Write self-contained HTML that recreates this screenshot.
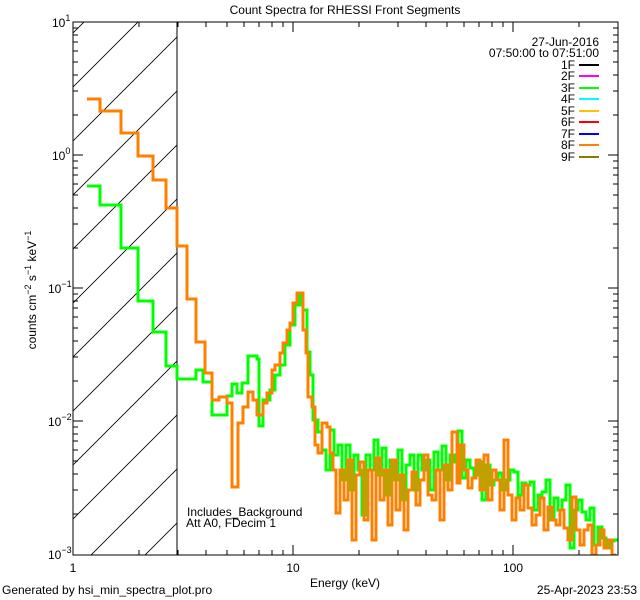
<!DOCTYPE html>
<html><head><meta charset="utf-8"><style>
html,body{margin:0;padding:0;background:#fff;width:640px;height:600px;overflow:hidden;}
svg{display:block;}
svg text{font-family:"Liberation Sans",sans-serif;font-size:12px;fill:#000;}
</style></head><body>
<svg width="640" height="600" viewBox="0 0 640 600" xmlns="http://www.w3.org/2000/svg">
<rect width="640" height="600" fill="#fff"/>
<defs><clipPath id="c"><rect x="73" y="22" width="545" height="533"/></clipPath>
<pattern id="hp" patternUnits="userSpaceOnUse" width="54" height="54" patternTransform="translate(-2,0)">
<path d="M0,54L54,0M-2,2L2,-2M52,56L56,52" stroke="#000" stroke-width="0.8"/>
</pattern></defs>
<rect x="73" y="22" width="104" height="533" fill="url(#hp)"/>
<line x1="177" y1="22" x2="177" y2="555" stroke="#000"/>
<g clip-path="url(#c)" fill="none" stroke-width="3">
<polyline stroke="#00ff00" points="87,186 100,186 100,205 121,205 121,248 138,248 138,301 153,301 153,332 166,332 166,366 177,366 177,379 196,379 196,370 203,370 203,382 212,382 212,415 227,415 227,396 232,396 232,384 237,384 237,393 242,393 242,383 248,383 248,356 257,356 257,359 259,359 259,426 263,426 263,400 270,400 270,390 275,390 275,375 280,375 280,365 285,365 285,345 290,345 290,325 295,325 295,305 300,305 300,296 303,296 303,310 307,310 307,352 310,352 310,375 313,375 313,420 318,420 318,432 322,432 322,450 326,450 326,470 330,470 330,430 334,430 334,455 338,455 338,445 342,445 342,480 346,480 346,445 350,445 350,490 354,490 354,455 358,455 358,470 362,470 362,515 366,515 366,455 370,455 370,470 374,470 374,440 378,440 378,475 382,475 382,448 386,448 386,495 390,495 390,460 394,460 394,480 398,480 398,450 402,450 402,500 406,500 406,465 410,465 410,455 414,455 414,490 418,490 418,455 422,455 422,470 426,470 426,460 430,460 430,490 434,490 434,452 438,452 438,470 442,470 442,446 446,446 446,480 450,480 450,455 454,455 454,462 458,462 458,431 462,431 462,478 466,478 466,460 470,460 470,468 474,468 474,475 478,475 478,462 482,462 482,500 486,500 486,465 490,465 490,485 494,485 494,480 498,480 498,473 502,473 502,490 506,490 506,480 510,480 510,470 514,470 514,472 518,472 518,495 522,495 522,483 526,483 526,485 530,485 530,482 534,482 534,510 538,510 538,495 542,495 542,492 546,492 546,480 550,480 550,520 554,520 554,498 558,498 558,510 562,510 562,500 566,500 566,485 570,485 570,548 574,548 574,510 578,510 578,500 582,500 582,512 586,512 586,520 590,520 590,508 594,508 594,545 598,545 598,527 602,527 602,538 606,538 606,548 610,548 610,541 614,541 614,540 618,540"/>
<polyline stroke="#ff8000" points="87,99 100,99 100,111 121,111 121,133 138,133 138,156 153,156 153,180 166,180 166,208 177,208 177,246 187,246 187,299 196,299 196,342 205,342 205,373 212,373 212,400 219,400 219,397 227,397 227,403 232,403 232,487 238,487 238,423 243,423 243,407 248,407 248,392 253,392 253,400 257,400 257,415 263,415 263,403 267,403 267,393 272,393 272,370 275,370 275,365 280,365 280,353 283,353 283,343 287,343 287,330 290,330 290,323 293,323 293,303 297,303 297,293 303,293 303,330 306,330 306,353 308,353 308,397 312,397 312,407 315,407 315,445 318,445 318,453 322,453 322,423 327,423 327,427 330,427 330,453 333,453 333,470 336,470 336,513 340,513 340,470 344,470 344,500 348,500 348,460 352,460 352,540 356,540 356,475 360,475 360,462 364,462 364,520 368,520 368,470 372,470 372,540 376,540 376,458 380,458 380,500 384,500 384,470 388,470 388,525 392,525 392,460 396,460 396,510 400,510 400,475 404,475 404,530 408,530 408,490 412,490 412,472 416,472 416,505 420,505 420,480 424,480 424,455 428,455 428,495 432,495 432,500 436,500 436,470 440,470 440,520 444,520 444,465 448,465 448,490 452,490 452,432 457,432 457,483 460,483 460,445 464,445 464,470 468,470 468,488 472,488 472,478 476,478 476,460 480,460 480,490 484,490 484,455 488,455 488,500 492,500 492,470 496,470 496,480 500,480 500,510 504,510 504,440 508,440 508,495 512,495 512,520 516,520 516,498 520,498 520,510 524,510 524,485 528,485 528,508 532,508 532,525 536,525 536,515 540,515 540,498 544,498 544,530 548,530 548,507 552,507 552,520 556,520 556,525 560,525 560,510 564,510 564,528 568,528 568,540 572,540 572,497 576,497 576,530 580,530 580,545 584,545 584,530 588,530 588,525 592,525 592,555 596,555 596,545 600,545 600,530 604,530 604,548 608,548 608,540 612,540 612,555 616,555"/>
</g>
<rect x="73" y="22" width="545" height="533" fill="none" stroke="#000"/>
<g stroke="#000">
<path d="M73,22h10M73,155h10M73,288h10M73,421h10M73,555h10M618,22h-10M618,155h-10M618,288h-10M618,421h-10"/>
<path id="ym" d="M73,115h5M73,91h5M73,75h5M73,62h5M73,51h5M73,42h5M73,35h5M73,28h5"/>
<use href="#ym" y="133"/><use href="#ym" y="266"/><use href="#ym" y="399"/>
<use href="#ym" transform="translate(691,0) scale(-1,1)"/><use href="#ym" transform="translate(691,133) scale(-1,1)"/><use href="#ym" transform="translate(691,266) scale(-1,1)"/><use href="#ym" transform="translate(691,399) scale(-1,1)"/>
<path d="M293,555v-10M513,555v-10M293,22v10M513,22v10"/>
<path id="xm" d="M139,555v-5M178,555v-5M206,555v-5M227,555v-5M244,555v-5M259,555v-5M272,555v-5M283,555v-5"/>
<use href="#xm" x="220"/><path d="M579,555v-5M618,555v-5"/>
<use href="#xm" y="-528"/><use href="#xm" x="220" y="-528"/><path d="M579,22v5"/>
</g>
<text x="345" y="14" text-anchor="middle" font-size="14">Count Spectra for RHESSI Front Segments</text>
<text x="52" y="27">10<tspan font-size="9" dy="-6">1</tspan></text>
<text x="52" y="160">10<tspan font-size="9" dy="-6">0</tspan></text>
<text x="48" y="293">10<tspan font-size="9" dy="-6">−1</tspan></text>
<text x="48" y="426">10<tspan font-size="9" dy="-6">−2</tspan></text>
<text x="48" y="559">10<tspan font-size="9" dy="-6">−3</tspan></text>
<text x="73" y="572" text-anchor="middle">1</text>
<text x="293" y="572" text-anchor="middle">10</text>
<text x="513" y="572" text-anchor="middle">100</text>
<text x="345" y="587" text-anchor="middle">Energy (keV)</text>
<text x="2" y="594">Generated by hsi_min_spectra_plot.pro</text>
<text x="637" y="594" text-anchor="end">25-Apr-2023 23:53</text>
<text transform="translate(36,290) rotate(-90)" text-anchor="middle">counts cm<tspan font-size="9" dy="-5">−2</tspan><tspan dy="5"> s</tspan><tspan font-size="9" dy="-5">−1</tspan><tspan dy="5"> keV</tspan><tspan font-size="9" dy="-5">−1</tspan></text>
<text x="187" y="516">Includes_Background</text>
<text x="186" y="527">Att A0, FDecim 1</text>
<text x="599" y="46" text-anchor="end">27-Jun-2016</text>
<text x="599" y="57" text-anchor="end">07:50:00 to 07:51:00</text>
<g text-anchor="end">
<text x="575" y="69">1F</text><text x="575" y="80">2F</text><text x="575" y="92">3F</text><text x="575" y="103">4F</text><text x="575" y="115">5F</text><text x="575" y="126">6F</text><text x="575" y="138">7F</text><text x="575" y="149">8F</text><text x="575" y="161">9F</text>
</g>
<g stroke-width="2">
<line x1="579" y1="65" x2="599" y2="65" stroke="#000"/>
<line x1="579" y1="76" x2="599" y2="76" stroke="#ff00ff"/>
<line x1="579" y1="88" x2="599" y2="88" stroke="#00ff00"/>
<line x1="579" y1="99" x2="599" y2="99" stroke="#00ffff"/>
<line x1="579" y1="111" x2="599" y2="111" stroke="#ffc000"/>
<line x1="579" y1="122" x2="599" y2="122" stroke="#ff0000"/>
<line x1="579" y1="134" x2="599" y2="134" stroke="#0000ff"/>
<line x1="579" y1="145" x2="599" y2="145" stroke="#ff8000"/>
<line x1="579" y1="157" x2="599" y2="157" stroke="#808000"/>
</g>
</svg>
</body></html>
